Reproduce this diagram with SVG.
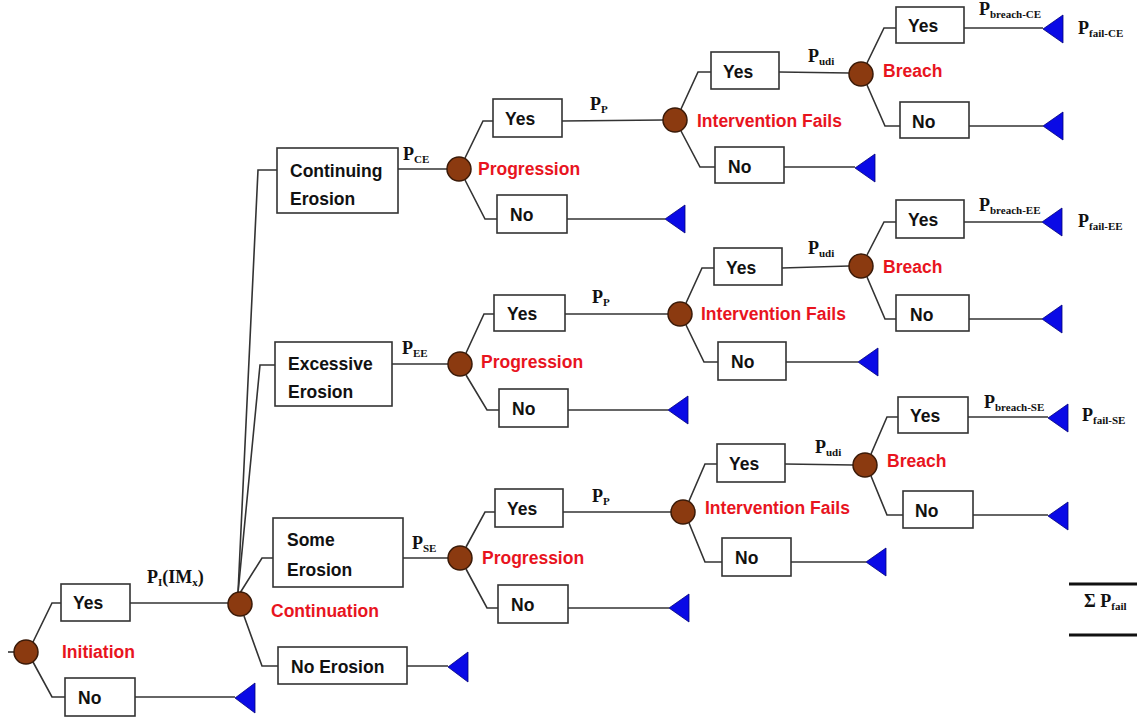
<svg xmlns="http://www.w3.org/2000/svg" width="1137" height="719" viewBox="0 0 1137 719">
<style>
.box{fill:#fff;stroke:#333;stroke-width:1.6}
.bt{font-family:"Liberation Sans",Arial,sans-serif;font-weight:bold;font-size:17.5px;fill:#111}
.rt{font-family:"Liberation Sans",Arial,sans-serif;font-weight:bold;font-size:17.5px;fill:#e8141e}
.pt{font-family:"Liberation Serif","Times New Roman",serif;font-weight:bold;font-size:18px;fill:#111}
.sub{font-size:11px}
.ch{fill:#8b3a10;stroke:#3a1a08;stroke-width:1.5}
.tri{fill:#0a0ae6;stroke:#00007a;stroke-width:0.8}
.ln{fill:none;stroke:#333;stroke-width:1.6}
</style>
<rect width="1137" height="719" fill="#fff"/>
<g id="connectors">
<path class="ln" d="M8,652 H14"/>
<path class="ln" d="M33,642 L52,603 H61"/>
<path class="ln" d="M130,603 H228"/>
<path class="ln" d="M33,662 L52,697 H65"/>
<path class="ln" d="M135,697 H235"/>
<path class="ln" d="M238,593 L258,170 H277"/>
<path class="ln" d="M238,593 L260,365 H275"/>
<path class="ln" d="M240,593 L262,558 H273"/>
<path class="ln" d="M244,616 L262,666 H278"/>
<path class="ln" d="M407,666 H448"/>
<path class="ln" d="M398,169 H447"/>
<path class="ln" d="M465,158 L483,121 H493"/>
<path class="ln" d="M562,121 L663,120"/>
<path class="ln" d="M465,180 L485,219 H497"/>
<path class="ln" d="M567,219 H665"/>
<path class="ln" d="M681,109 L698,72 H711"/>
<path class="ln" d="M779,72 L849,73"/>
<path class="ln" d="M681,131 L700,167 H715"/>
<path class="ln" d="M784,167 H855"/>
<path class="ln" d="M867,63 L884,28 H896"/>
<path class="ln" d="M964,28 H1043"/>
<path class="ln" d="M867,85 L885,126 H900"/>
<path class="ln" d="M969,126 H1043"/>
<path class="ln" d="M392,364 H448"/>
<path class="ln" d="M466,353 L484,314 H494"/>
<path class="ln" d="M565,314 H668"/>
<path class="ln" d="M466,375 L487,410 H499"/>
<path class="ln" d="M568,410 H668"/>
<path class="ln" d="M686,303 L702,268 H714"/>
<path class="ln" d="M782,268 L849,266"/>
<path class="ln" d="M686,325 L704,362 H718"/>
<path class="ln" d="M786,362 H858"/>
<path class="ln" d="M867,255 L884,222 H896"/>
<path class="ln" d="M964,222 H1042"/>
<path class="ln" d="M867,277 L885,319 H896"/>
<path class="ln" d="M969,319 H1042"/>
<path class="ln" d="M403,558 H448"/>
<path class="ln" d="M466,547 L485,512 H495"/>
<path class="ln" d="M563,512 H671"/>
<path class="ln" d="M466,569 L487,608 H498"/>
<path class="ln" d="M568,608 H669"/>
<path class="ln" d="M689,501 L705,464 H717"/>
<path class="ln" d="M785,464 L853,465"/>
<path class="ln" d="M689,523 L705,562 H722"/>
<path class="ln" d="M791,562 H866"/>
<path class="ln" d="M871,454 L887,417 H898"/>
<path class="ln" d="M968,417 H1048"/>
<path class="ln" d="M871,476 L887,515 H903"/>
<path class="ln" d="M973,515 H1048"/>
</g>
<g id="chance-nodes">
<g id="initiation"><circle class="ch" cx="26" cy="652" r="12"/><text class="rt" x="62" y="658">Initiation</text></g>
<g id="continuation"><circle class="ch" cx="240" cy="604" r="12"/><text class="rt" x="271" y="617">Continuation</text></g>
<g id="prog-ce"><circle class="ch" cx="459" cy="169" r="12"/><text class="rt" x="478" y="175">Progression</text></g>
<g id="prog-ee"><circle class="ch" cx="460" cy="364" r="12"/><text class="rt" x="481" y="368">Progression</text></g>
<g id="prog-se"><circle class="ch" cx="460" cy="558" r="12"/><text class="rt" x="482" y="564">Progression</text></g>
<g id="int-ce"><circle class="ch" cx="675" cy="120" r="12"/><text class="rt" x="697" y="127">Intervention Fails</text></g>
<g id="int-ee"><circle class="ch" cx="680" cy="314" r="12"/><text class="rt" x="701" y="320">Intervention Fails</text></g>
<g id="int-se"><circle class="ch" cx="683" cy="512" r="12"/><text class="rt" x="705" y="514">Intervention Fails</text></g>
<g id="breach-ce"><circle class="ch" cx="861" cy="74" r="12"/><text class="rt" x="883" y="77">Breach</text></g>
<g id="breach-ee"><circle class="ch" cx="861" cy="266" r="12"/><text class="rt" x="883" y="273">Breach</text></g>
<g id="breach-se"><circle class="ch" cx="865" cy="465" r="12"/><text class="rt" x="887" y="467">Breach</text></g>
</g>
<g id="boxes">
<g id="init-yes"><rect class="box" x="61" y="584" width="69" height="37"/><text class="bt" x="73" y="609">Yes</text></g>
<g id="init-no"><rect class="box" x="65" y="678" width="70" height="38"/><text class="bt" x="78" y="704">No</text></g>
<g id="ce"><rect class="box" x="277" y="148" width="121" height="65"/><text class="bt" x="290" y="177">Continuing</text><text class="bt" x="290" y="205">Erosion</text></g>
<g id="ee"><rect class="box" x="275" y="342" width="117" height="64"/><text class="bt" x="288" y="370">Excessive</text><text class="bt" x="288" y="398">Erosion</text></g>
<g id="se"><rect class="box" x="273" y="518" width="130" height="69"/><text class="bt" x="287" y="546">Some</text><text class="bt" x="287" y="576">Erosion</text></g>
<g id="no-erosion"><rect class="box" x="278" y="647" width="129" height="37"/><text class="bt" x="291" y="673">No Erosion</text></g>
<g id="ce-prog-yes"><rect class="box" x="493" y="99" width="69" height="38"/><text class="bt" x="505" y="125">Yes</text></g>
<g id="ce-prog-no"><rect class="box" x="497" y="195" width="70" height="38"/><text class="bt" x="510" y="221">No</text></g>
<g id="ce-int-yes"><rect class="box" x="711" y="52" width="68" height="37"/><text class="bt" x="723" y="78">Yes</text></g>
<g id="ce-int-no"><rect class="box" x="715" y="147" width="69" height="36"/><text class="bt" x="728" y="173">No</text></g>
<g id="ce-br-yes"><rect class="box" x="896" y="7" width="68" height="36"/><text class="bt" x="908" y="32">Yes</text></g>
<g id="ce-br-no"><rect class="box" x="900" y="102" width="69" height="36"/><text class="bt" x="912" y="128">No</text></g>
<g id="ee-prog-yes"><rect class="box" x="494" y="295" width="71" height="36"/><text class="bt" x="507" y="320">Yes</text></g>
<g id="ee-prog-no"><rect class="box" x="499" y="389" width="69" height="38"/><text class="bt" x="512" y="415">No</text></g>
<g id="ee-int-yes"><rect class="box" x="714" y="248" width="68" height="37"/><text class="bt" x="726" y="274">Yes</text></g>
<g id="ee-int-no"><rect class="box" x="718" y="342" width="68" height="38"/><text class="bt" x="731" y="368">No</text></g>
<g id="ee-br-yes"><rect class="box" x="896" y="200" width="68" height="38"/><text class="bt" x="908" y="226">Yes</text></g>
<g id="ee-br-no"><rect class="box" x="896" y="295" width="73" height="36"/><text class="bt" x="910" y="321">No</text></g>
<g id="se-prog-yes"><rect class="box" x="495" y="489" width="68" height="38"/><text class="bt" x="507" y="515">Yes</text></g>
<g id="se-prog-no"><rect class="box" x="498" y="585" width="70" height="38"/><text class="bt" x="511" y="611">No</text></g>
<g id="se-int-yes"><rect class="box" x="717" y="444" width="68" height="38"/><text class="bt" x="729" y="470">Yes</text></g>
<g id="se-int-no"><rect class="box" x="722" y="538" width="69" height="38"/><text class="bt" x="735" y="564">No</text></g>
<g id="se-br-yes"><rect class="box" x="898" y="397" width="70" height="36"/><text class="bt" x="910" y="422">Yes</text></g>
<g id="se-br-no"><rect class="box" x="903" y="491" width="70" height="37"/><text class="bt" x="915" y="517">No</text></g>
</g>
<g id="end-nodes">
<polygon class="tri" points="235,698 255,683 255,713"/>
<polygon class="tri" points="448,667 468,652 468,682"/>
<polygon class="tri" points="665,219 685,205 685,233"/>
<polygon class="tri" points="855,168 875,154 875,182"/>
<polygon class="tri" points="1043,29 1063,15 1063,43"/>
<polygon class="tri" points="1043,126 1063,112 1063,140"/>
<polygon class="tri" points="668,410 688,396 688,424"/>
<polygon class="tri" points="858,362 878,348 878,376"/>
<polygon class="tri" points="1042,222 1062,208 1062,236"/>
<polygon class="tri" points="1042,319 1062,305 1062,333"/>
<polygon class="tri" points="669,608 689,594 689,622"/>
<polygon class="tri" points="866,562 886,548 886,576"/>
<polygon class="tri" points="1048,418 1068,404 1068,432"/>
<polygon class="tri" points="1048,516 1068,502 1068,530"/>
</g>
<g id="labels">
<text class="pt" x="147" y="583">P<tspan class="sub" dy="3">I</tspan><tspan dy="-3">(IM</tspan><tspan class="sub" dy="3">x</tspan><tspan dy="-3">)</tspan></text>
<text class="pt" x="403" y="160">P<tspan class="sub" dy="3">CE</tspan></text>
<text class="pt" x="402" y="354">P<tspan class="sub" dy="3">EE</tspan></text>
<text class="pt" x="412" y="549">P<tspan class="sub" dy="3">SE</tspan></text>
<text class="pt" x="590" y="110">P<tspan class="sub" dy="3">P</tspan></text>
<text class="pt" x="592" y="303">P<tspan class="sub" dy="3">P</tspan></text>
<text class="pt" x="592" y="502">P<tspan class="sub" dy="3">P</tspan></text>
<text class="pt" x="808" y="62">P<tspan class="sub" dy="3">udi</tspan></text>
<text class="pt" x="808" y="254">P<tspan class="sub" dy="3">udi</tspan></text>
<text class="pt" x="815" y="453">P<tspan class="sub" dy="3">udi</tspan></text>
<text class="pt" x="979" y="15">P<tspan class="sub" dy="3">breach-CE</tspan></text>
<text class="pt" x="979" y="211">P<tspan class="sub" dy="3">breach-EE</tspan></text>
<text class="pt" x="984" y="408">P<tspan class="sub" dy="3">breach-SE</tspan></text>
<text class="pt" x="1078" y="34">P<tspan class="sub" dy="3">fail-CE</tspan></text>
<text class="pt" x="1078" y="227">P<tspan class="sub" dy="3">fail-EE</tspan></text>
<text class="pt" x="1082" y="421">P<tspan class="sub" dy="3">fail-SE</tspan></text>
</g>
<g id="sum">
<path d="M1069,584 H1137 M1069,635 H1137" stroke="#111" stroke-width="3" fill="none"/>
<text class="pt" x="1084" y="607">Σ P<tspan class="sub" dy="3">fail</tspan></text>
</g>
</svg>
